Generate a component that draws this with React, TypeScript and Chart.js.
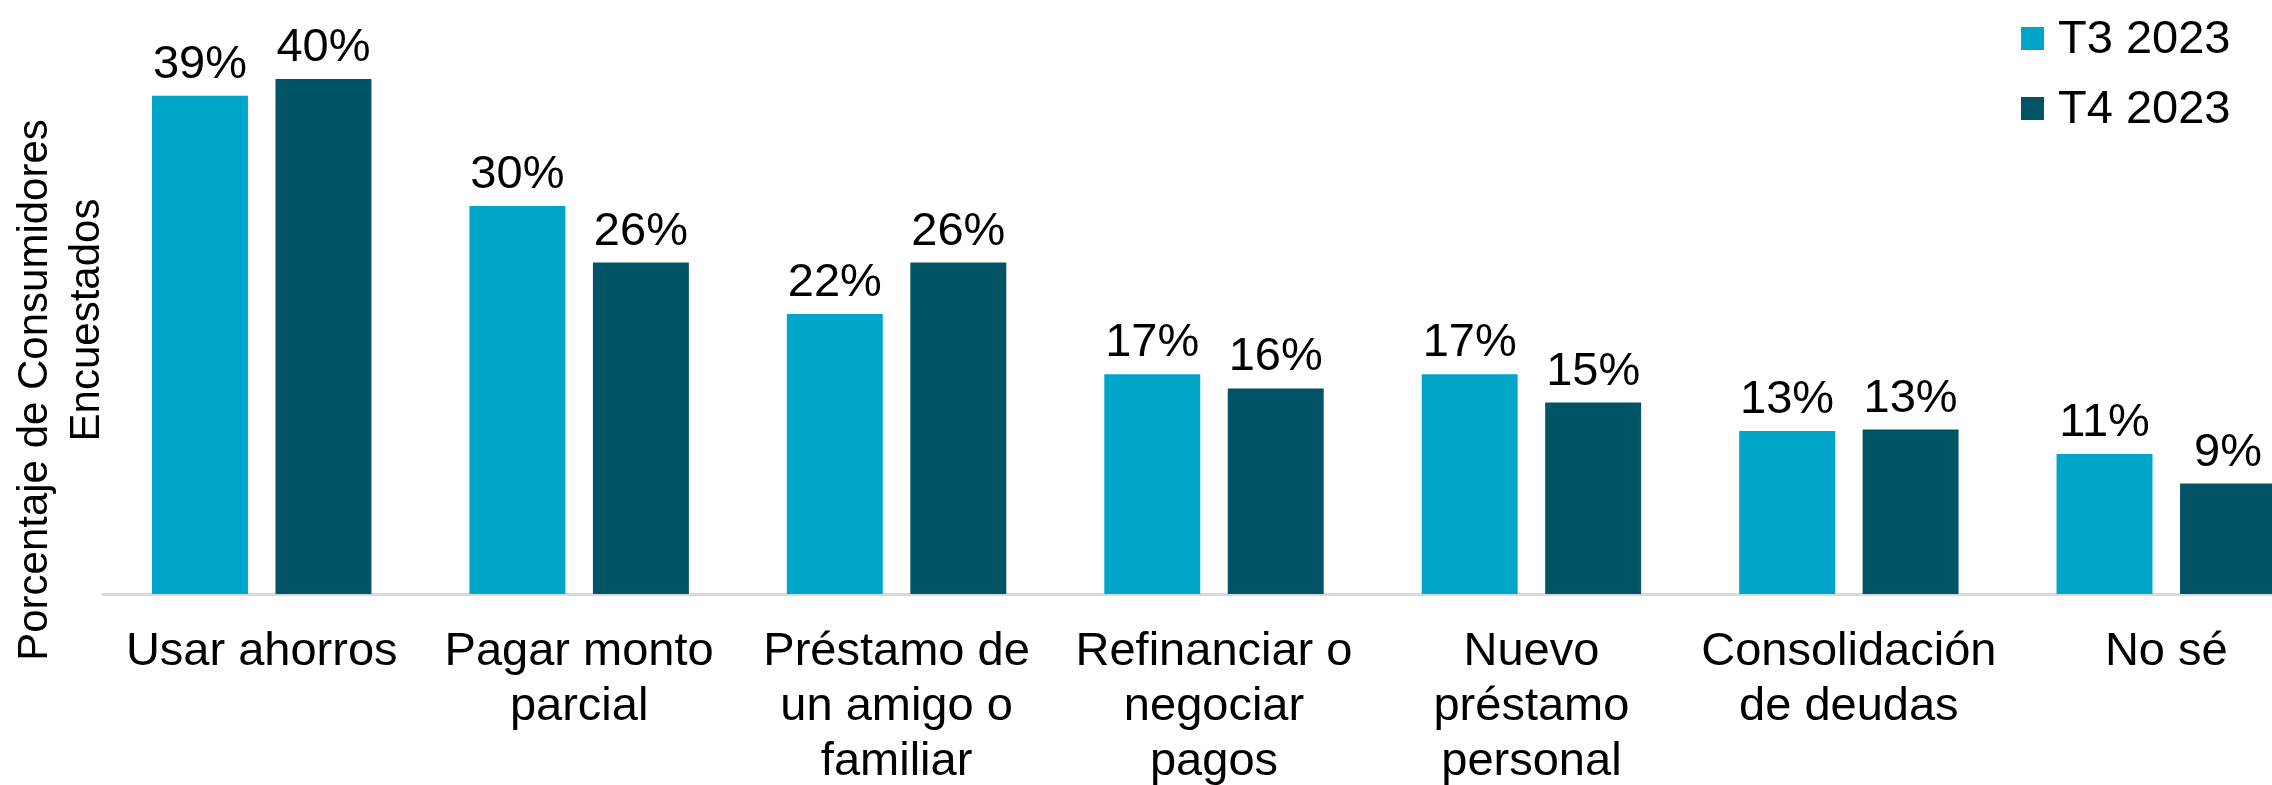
import React, { useEffect, useRef } from "react";
import { Chart, registerables } from "chart.js";

Chart.register(...registerables);

const categories: (string | string[])[] = [
  "Usar ahorros",
  ["Pagar monto", "parcial"],
  ["Préstamo de", "un amigo o", "familiar"],
  ["Refinanciar o", "negociar", "pagos"],
  ["Nuevo", "préstamo", "personal"],
  ["Consolidación", "de deudas"],
  "No sé",
];
const seriesNames = ["T3 2023", "T4 2023"];
const t3Values = [38.8, 30.2, 21.8, 17.1, 17.1, 12.7, 10.9];
const t4Values = [40.1, 25.8, 25.8, 16.0, 14.9, 12.8, 8.6];
const seriesColors = ["#00A6CA", "#015366"];
const yTitleLines = ["Porcentaje de Consumidores", "Encuestados"];

const FONT = "'Liberation Sans', Arial, sans-serif";

const customDraw = {
  id: "customDraw",
  afterDatasetsDraw(chart: any) {
    const ctx = chart.ctx;
    ctx.save();
    ctx.fillStyle = "#000";
    ctx.font = `47px ${FONT}`;
    ctx.textAlign = "center";
    ctx.textBaseline = "alphabetic";
    chart.data.datasets.forEach((ds: any, i: number) => {
      const meta = chart.getDatasetMeta(i);
      meta.data.forEach((bar: any, j: number) => {
        const v = Math.round(ds.data[j]);
        ctx.fillText(`${v}%`, bar.x, bar.y - 18);
      });
    });
    ctx.restore();
  },
  afterDraw(chart: any) {
    const ctx = chart.ctx;
    ctx.save();
    // legend
    ctx.font = `47px ${FONT}`;
    ctx.textBaseline = "middle";
    ctx.textAlign = "left";
    seriesNames.forEach((name, i) => {
      const cy = 38 + i * 70;
      ctx.fillStyle = seriesColors[i];
      ctx.fillRect(2021, cy - 11, 23, 23);
      ctx.fillStyle = "#000";
      ctx.fillText(name, 2058, cy + 2);
    });
    // y title
    ctx.font = `42px ${FONT}`;
    ctx.textAlign = "center";
    ctx.textBaseline = "middle";
    ctx.fillStyle = "#000";
    const pos = [
      [35, 390],
      [87, 320],
    ];
    yTitleLines.forEach((line, i) => {
      ctx.save();
      ctx.translate(pos[i][0], pos[i][1]);
      ctx.rotate(-Math.PI / 2);
      ctx.fillText(line, 0, 0);
      ctx.restore();
    });
    ctx.restore();
  },
};

export default function App() {
  const ref = useRef<HTMLCanvasElement>(null);
  useEffect(() => {
    if (!ref.current) return;
    const chart = new Chart(ref.current, {
      type: "bar",
      data: {
        labels: categories,
        datasets: [
          {
            label: seriesNames[0],
            data: t3Values,
            backgroundColor: seriesColors[0],
            categoryPercentage: 0.778,
            barPercentage: 0.777,
          },
          {
            label: seriesNames[1],
            data: t4Values,
            backgroundColor: seriesColors[1],
            categoryPercentage: 0.778,
            barPercentage: 0.777,
          },
        ],
      },
      options: {
        responsive: true,
        maintainAspectRatio: false,
        animation: false,
        layout: { padding: { left: 103, right: 5, top: 16, bottom: 0 } },
        plugins: {
          legend: { display: false },
          tooltip: { enabled: false },
        },
        scales: {
          x: {
            grid: { display: false, drawTicks: false },
            border: { display: true, color: "#D9D9D9", width: 3 },
            ticks: {
              color: "#000",
              padding: 31,
              maxRotation: 0,
              minRotation: 0,
              autoSkip: false,
              font: { family: FONT, size: 47, lineHeight: "55px" },
            },
            afterFit(scale: any) {
              scale.height = 206;
            },
          },
          y: {
            display: false,
            min: 0,
            max: 45,
          },
        },
      },
      plugins: [customDraw],
    });
    return () => chart.destroy();
  }, []);
  return (
    <div
      style={{
        position: "absolute",
        left: 0,
        top: 0,
        width: 2272,
        height: 785,
        overflow: "hidden",
        background: "#fff",
      }}
    >
      <div style={{ position: "relative", width: 2330, height: 800 }}>
        <canvas ref={ref} />
      </div>
    </div>
  );
}
